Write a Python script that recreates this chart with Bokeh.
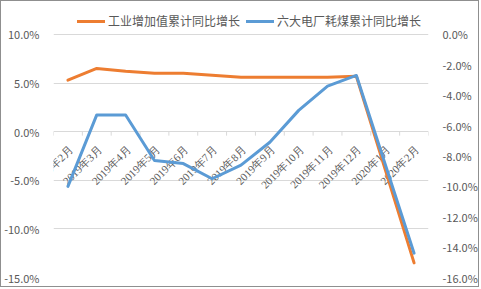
import math
from bokeh.plotting import figure
from bokeh.models import (Range1d, LinearAxis, FixedTicker, PrintfTickFormatter,
                          Legend, LegendItem, LabelSet, ColumnDataSource)
from bokeh.embed import file_html
from bokeh.resources import INLINE

months = ["2019年2月", "2019年3月", "2019年4月", "2019年5月", "2019年6月", "2019年7月",
          "2019年8月", "2019年9月", "2019年10月", "2019年11月", "2019年12月",
          "2020年1月", "2020年2月"]
ind_growth = [5.3, 6.5, 6.2, 6.0, 6.0, 5.8, 5.6, 5.6, 5.6, 5.6, 5.7, None, -13.5]
coal_growth = [-10.0, -5.3, -5.3, -8.3, -8.5, -9.5, -8.6, -7.1, -5.0, -3.4, -2.7, None, -14.4]
left_ticks = [-15, -10, -5, 0, 5, 10]
right_ticks = [-16, -14, -12, -10, -8, -6, -4, -2, 0]
name_ind = "工业增加值累计同比增长"
name_coal = "六大电厂耗煤累计同比增长"

FONT = "Noto Sans CJK SC"
TXT = "#595959"
GRID = "#D9D9D9"

# headroom above the top gridline so the legend sits inside the frame
TOP_PAD_PX = 26.0
AXIS_PX = 244.0
lmin, lmax = left_ticks[0], left_ticks[-1]
rmin, rmax = right_ticks[0], right_ticks[-1]
lpad = TOP_PAD_PX * (lmax - lmin) / AXIS_PX
rpad = TOP_PAD_PX * (rmax - rmin) / AXIS_PX

p = figure(width=479, height=287, output_backend="svg", toolbar_location=None,
           x_range=Range1d(-0.5, len(months) - 0.5), y_range=Range1d(lmin, lmax + lpad),
           min_border_left=47, min_border_right=46, min_border_top=7, min_border_bottom=11)
p.styles = {"border": "1px solid #8f8f8f"}
p.outline_line_color = None
p.background_fill_color = "white"
p.border_fill_color = "white"

p.extra_y_ranges = {"right": Range1d(rmin, rmax + rpad)}

p.xaxis.visible = False
p.xgrid.visible = False
p.ygrid.ticker = FixedTicker(ticks=left_ticks)
p.ygrid.grid_line_color = GRID

ya = p.yaxis[0]
ya.ticker = FixedTicker(ticks=left_ticks)
ya.formatter = PrintfTickFormatter(format="%.1f%%")
ra = LinearAxis(y_range_name="right", ticker=FixedTicker(ticks=right_ticks),
                formatter=PrintfTickFormatter(format="%.1f%%"))
p.add_layout(ra, "right")
for ax in (ya, ra):
    ax.axis_line_color = None
    ax.major_tick_line_color = None
    ax.minor_tick_line_color = None
    ax.major_label_text_color = TXT
    ax.major_label_text_font = FONT
    ax.major_label_text_font_size = "11px"
    ax.major_label_standoff = 8

# category axis at 0: tick marks at category boundaries
bounds = [i - 0.5 for i in range(len(months) + 1)]
p.ray(x=bounds, y=[0] * len(bounds), length=4, length_units="screen",
      angle=-math.pi / 2, line_color=GRID, line_width=1)

# category labels (beneath the lines)
lab_src = ColumnDataSource(dict(x=list(range(len(months))), y=[0] * len(months), text=months))
labels = LabelSet(x="x", y="y", text="text", source=lab_src,
                  angle=math.pi / 4, text_align="right", text_baseline="middle",
                  x_offset=3, y_offset=-16, text_color=TXT,
                  text_font=FONT, text_font_size="11px", level="underlay")
p.add_layout(labels)

xi = [i for i, v in enumerate(ind_growth) if v is not None]
yi = [v for v in ind_growth if v is not None]
xc = [i for i, v in enumerate(coal_growth) if v is not None]
yc = [v for v in coal_growth if v is not None]

r1 = p.line(xi, yi, line_color="#ED7D31", line_width=3, line_join="round", line_cap="round")
r2 = p.line(xc, yc, line_color="#5B9BD5", line_width=3, line_join="round", line_cap="round",
            y_range_name="right")

legend = Legend(items=[LegendItem(label=name_ind, renderers=[r1]),
                       LegendItem(label=name_coal, renderers=[r2])],
                orientation="horizontal", location=(24, 248))
legend.label_text_font = FONT
legend.label_text_font_size = "12px"
legend.label_text_color = TXT
legend.glyph_width = 28
legend.glyph_height = 14
legend.label_standoff = 3
legend.spacing = 6
legend.padding = 0
legend.margin = 0
legend.border_line_color = None
legend.background_fill_alpha = 0
p.add_layout(legend)

open("out.html", "w").write(file_html(p, INLINE))
